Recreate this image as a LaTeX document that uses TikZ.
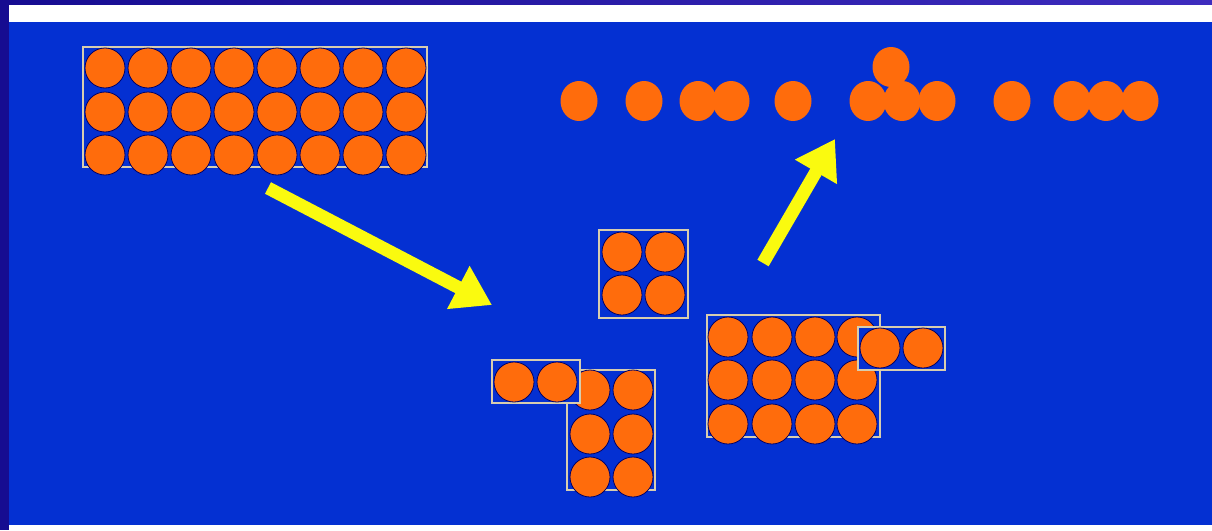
\documentclass[tikz,border=0pt]{standalone}
\usetikzlibrary{arrows.meta,shapes.geometric}
\definecolor{bg}{RGB}{4,48,210}
\definecolor{navy}{RGB}{22,12,145}
\definecolor{navyr}{RGB}{62,44,190}
\definecolor{ballc}{RGB}{255,108,12}
\definecolor{boxline}{RGB}{215,205,175}
\definecolor{arrowy}{RGB}{250,250,15}
\begin{document}
\begin{tikzpicture}[x=1pt,y=-1pt,
  ball/.style={circle,fill=ballc,draw=black!60!blue,line width=0.8pt,minimum size=40pt,inner sep=0pt},
  sball/.style={ellipse,fill=ballc,draw=none,minimum width=37pt,minimum height=40pt,inner sep=0pt},
  frame/.style={draw=boxline,line width=1.6pt,fill=bg},
  bigarrow/.style={draw=arrowy,line width=13pt,-{Triangle[length=38pt,width=46pt]}}]
\useasboundingbox (0,0) rectangle (1212,530);
% background
\fill[navy] (0,0) rectangle (1212,530);
\shade[left color=navy,right color=navyr] (0,0) rectangle (1212,5);
\fill[white] (9,5) rectangle (1212,22);
\fill[bg] (9,22) rectangle (1212,525);
\fill[white] (9,525) rectangle (1212,530);
% top-left grid 8x3
\node[frame,minimum width=344pt,minimum height=120pt,inner sep=0pt] (gridbox) at (255,107) {};
\foreach \r/\yy in {1/68,2/112,3/155}{
  \foreach \c in {1,...,8}{
    \node[ball] (g-\r-\c) at ({105+43*(\c-1)},\yy) {};
  }
}
% top-right row
\node[sball] (t1) at (579,101) {};
\node[sball] (t2) at (644,101) {};
\node[sball] (t3) at (698,101) {};
\node[sball] (t4) at (731,101) {};
\node[sball] (t5) at (793,101) {};
\node[sball] (t6) at (868,101) {};
\node[sball] (t8) at (937,101) {};
\node[sball] (t7) at (902,101) {};
\node[sball] (t9) at (891,67) {};
\node[sball] (t10) at (1012,101) {};
\node[sball] (t11) at (1072,101) {};
\node[sball] (t13) at (1140,101) {};
\node[sball] (t12) at (1106,101) {};
% middle 2x2
\node[frame,minimum width=89pt,minimum height=88pt,inner sep=0pt] (sqbox) at (643.5,274) {};
\node[ball] (s1) at (622,252) {};
\node[ball] (s2) at (665,252) {};
\node[ball] (s3) at (622,295) {};
\node[ball] (s4) at (665,295) {};
% lower-left vertical group
\node[frame,minimum width=88pt,minimum height=120pt,inner sep=0pt] (vbox) at (611,430) {};
\node[ball] (v1) at (590,390) {};
\node[ball] (v2) at (633,390) {};
\node[ball] (v3) at (590,434) {};
\node[ball] (v4) at (633,434) {};
\node[ball] (v5) at (590,477) {};
\node[ball] (v6) at (633,477) {};
% lower-left pair
\node[frame,minimum width=88pt,minimum height=43pt,inner sep=0pt] (pbox) at (536,381.5) {};
\node[ball] (p1) at (514,382) {};
\node[ball] (p2) at (557,382) {};
% right group 4x3
\node[frame,minimum width=173pt,minimum height=122pt,inner sep=0pt] (rbox) at (793.5,376) {};
\foreach \r/\yy in {1/337,2/380,3/424}{
  \foreach \c/\xx in {1/728,2/772,3/815,4/857}{
    \node[ball] (r-\r-\c) at (\xx,\yy) {};
  }
}
% right small pair
\node[frame,minimum width=87pt,minimum height=43pt,inner sep=0pt] (qbox) at (901.5,348.5) {};
\node[ball] (q1) at (880,348) {};
\node[ball] (q2) at (923,348) {};
% arrows
\coordinate (a1s) at (268,188);
\coordinate (a1e) at (492,305);
\coordinate (a2s) at (763,263);
\coordinate (a2e) at (835,139);
\draw[bigarrow] (a1s) -- (a1e);
\draw[bigarrow] (a2s) -- (a2e);
\end{tikzpicture}
\end{document}
